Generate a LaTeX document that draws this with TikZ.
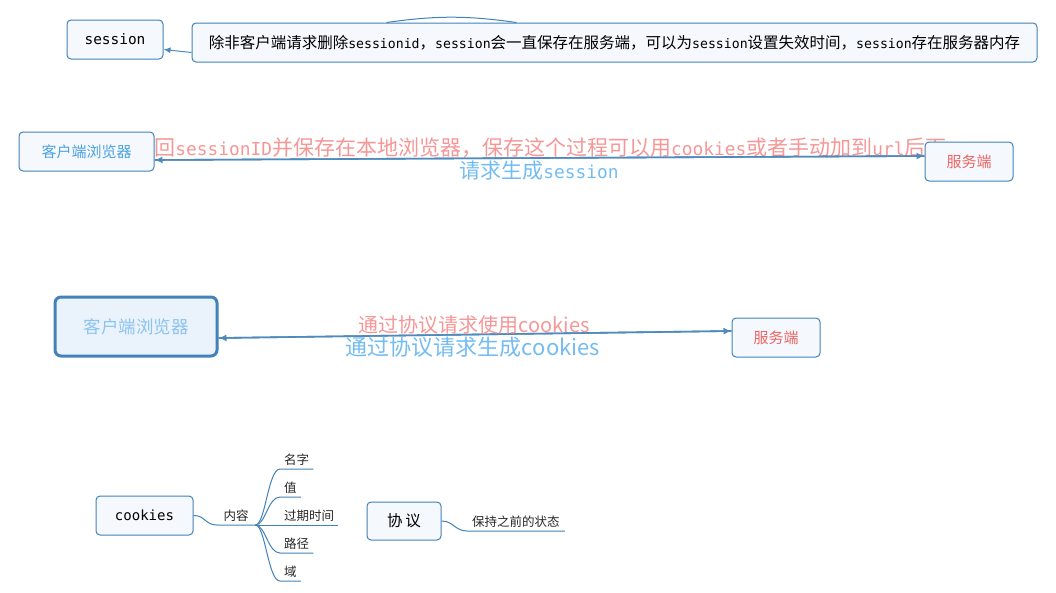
\documentclass[tikz,border=0pt]{standalone}
\usepackage{fontspec}
\setmainfont{Noto Sans CJK SC}
\setmonofont[Scale=0.85]{DejaVu Sans Mono}
\usepackage{tikz}
\usetikzlibrary{arrows.meta,backgrounds}

\begin{document}
\begin{tikzpicture}[x=1pt,y=-1pt,
    box/.style={draw=boxline, fill=boxfill, rounded corners=4pt, line width=1pt, inner sep=0pt},
    flow/.style={draw=arrowline, line width=1.6pt, -{Latex[length=8pt,width=7pt]}},
    mind/.style={draw=boxline, line width=1pt},
    leaf/.style={inner xsep=4pt, inner ysep=3pt, text=black!85, font=\fontsize{12.5}{14}\selectfont}]
    % Define colors
    \definecolor{boxline}{RGB}{66,130,185}
    \definecolor{boxfill}{RGB}{245,248,252}
    \definecolor{bigfill}{RGB}{234,242,251}
    \definecolor{arrowline}{RGB}{78,138,188}
    \definecolor{clientblue}{RGB}{75,162,226}
    \definecolor{paleblue}{RGB}{140,196,240}
    \definecolor{serverred}{RGB}{240,100,100}
    \definecolor{palered}{RGB}{246,150,150}
    \definecolor{lblblue}{RGB}{115,188,242}

    \path[use as bounding box] (0,0) rectangle (1056,592);

    % session and its note
    \node[box, minimum width=96pt, minimum height=39pt, font=\fontsize{17}{20}\selectfont\ttfamily] (session) at (115,39.5) {session};
    \node[box, minimum width=845pt, minimum height=39pt, font=\fontsize{15.5}{18}\selectfont] (note) at (614.5,42.5)
        {除非客户端请求删除\texttt{sessionid}，\texttt{session}会一直保存在服务端，可以为\texttt{session}设置失效时间，\texttt{session}存在服务器内存};
    \draw[draw=arrowline, line width=1pt, -{Latex[length=7pt,width=6pt]}] ([yshift=-10pt]note.west) -- ([yshift=-10pt]session.east);
    \draw[draw=boxline, line width=1pt] ([xshift=195pt]note.north west) to[bend left=8] ([xshift=325pt]note.north west);

    % Session request
    \node[box, minimum width=135pt, minimum height=39pt, text=clientblue, font=\fontsize{15}{18}\selectfont] (client1) at (86.5,151.5) {客户端浏览器};
    \node[box, minimum width=88pt, minimum height=39pt, text=serverred, font=\fontsize{15}{18}\selectfont] (server1) at (969,161.5) {服务端};
    \begin{pgfonlayer}{background}
        \node[text=palered, font=\fontsize{21}{24}\selectfont] (back1) at (540,148)
            {返回\texttt{sessionID}并保存在本地浏览器，保存这个过程可以用\texttt{cookies}或者手动加到\texttt{url}后面};
        \node[text=lblblue, font=\fontsize{21}{24}\selectfont] (ask1) at (539,171) {请求生成\texttt{session}};
    \end{pgfonlayer}
    \draw[flow] ([yshift=-8.5pt]client1.east) -- ([yshift=5.5pt]server1.west);
    \draw[flow] ([yshift=5.5pt]server1.west) -- ([yshift=-8.5pt]client1.east);

    % Cookies request
    \node[box, minimum width=162pt, minimum height=59pt, line width=3pt, rounded corners=6pt, fill=bigfill, text=paleblue, font=\fontsize{17.5}{20}\selectfont] (client2) at (136,326.5) {客户端浏览器};
    \node[box, minimum width=88pt, minimum height=39pt, text=serverred, font=\fontsize{15}{18}\selectfont] (server2) at (776,337.5) {服务端};
    \draw[flow] ([yshift=-11.5pt]client2.east) -- ([yshift=6.5pt]server2.west);
    \draw[flow] ([yshift=6.5pt]server2.west) -- ([yshift=-11.5pt]client2.east);
    \node[text=palered, font=\fontsize{20}{23}\selectfont] (use2) at (474,325) {通过协议请求使用cookies};
    \node[text=lblblue, font=\fontsize{22}{25}\selectfont] (ask2) at (473,347) {通过协议请求生成cookies};

    % Mind map: cookies
    \node[box, minimum width=97pt, minimum height=39pt, font=\fontsize{16.5}{19}\selectfont\ttfamily] (cookies) at (144.5,515.5) {cookies};
    \node[leaf, minimum width=38pt, anchor=south west] (content) at (217,525) {内容};
    \draw[mind] (cookies.east) .. controls +(12,0) and +(-12,0) .. (content.south west) -- (content.south east);
    \foreach \nm/\txt/\y in {name/名字/469, value/值/497, expire/过期时间/525, path/路径/553, domain/域/581} {
        \node[leaf, anchor=south west] (\nm) at (280,\y) {\txt};
        \draw[mind] (content.south east) .. controls +(10,0) and +(-12,0) .. (\nm.south west) -- (\nm.south east);
    }

    % Mind map: protocol
    \node[box, minimum width=74pt, minimum height=38pt, font=\fontsize{15.5}{18}\selectfont] (proto) at (404,521) {协\,议};
    \node[leaf, inner xsep=5pt, anchor=south west] (state) at (467,531) {保持之前的状态};
    \draw[mind] (proto.east) .. controls +(12,0) and +(-12,0) .. (state.south west) -- (state.south east);
\end{tikzpicture}
\end{document}
